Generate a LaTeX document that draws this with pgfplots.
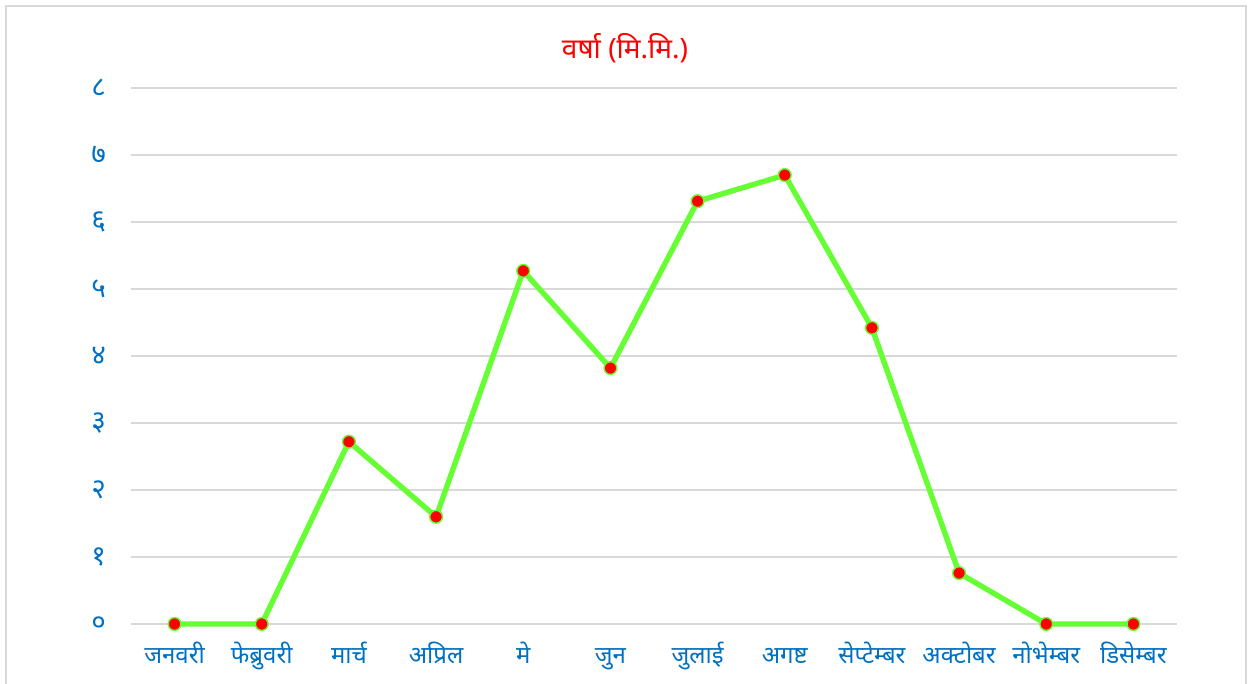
\documentclass[border=0pt]{standalone}
\usepackage{pgfplots}
\pgfplotsset{compat=1.18}
\usepackage{fontspec}
\newfontfamily\devfont[Script=Devanagari]{Noto Sans}
\definecolor{tickblue}{RGB}{0,112,192}
\definecolor{linegreen}{RGB}{102,255,51}
\definecolor{gridgray}{RGB}{217,217,217}

\begin{document}
\begin{tikzpicture}
\useasboundingbox (0,0) rectangle (628pt,342pt);
\begin{scope}
\clip (0,0) rectangle (628pt,342pt);
\draw[gridgray, line width=0.8pt] (3pt,-10pt) rectangle (623pt,339pt);
\end{scope}
\node[font=\devfont\fontsize{14}{16}\selectfont, text=red] at (312.5pt,318pt) {वर्षा (मि.मि.)};
\begin{axis}[
    at={(65.5pt,30pt)}, anchor=south west,
    scale only axis,
    width=523pt, height=268pt,
    xmin=-0.5, xmax=11.5,
    ymin=0, ymax=8,
    xtick={0,...,11},
    xticklabels={जनवरी, फेब्रुवरी, मार्च, अप्रिल, मे, जुन, जुलाई, अगष्ट, सेप्टेम्बर, अक्टोबर, नोभेम्बर, डिसेम्बर},
    ytick={0,...,8},
    yticklabels={०,१,२,३,४,५,६,७,८},
    tick label style={font=\devfont\fontsize{12}{14}\selectfont, text=tickblue},
    yticklabel style={xshift=-9pt, font=\devfont\fontsize{14}{16}\selectfont},
    xticklabel style={text height=1.5ex, text depth=0.4ex, yshift=-10pt},
    major tick length=0pt,
    axis line style={draw=none},
    ymajorgrids,
    grid style={gridgray, line width=0.6pt},
    clip=false,
]
\addplot[linegreen, line width=2.7pt, mark=*, mark size=3.2pt,
    mark options={fill=red, draw=linegreen, line width=0.7pt}]
coordinates {
    (0,0) (1,0) (2,2.72) (3,1.6) (4,5.27) (5,3.82)
    (6,6.31) (7,6.7) (8,4.42) (9,0.76) (10,0) (11,0)
};
\end{axis}
\end{tikzpicture}
\end{document}
